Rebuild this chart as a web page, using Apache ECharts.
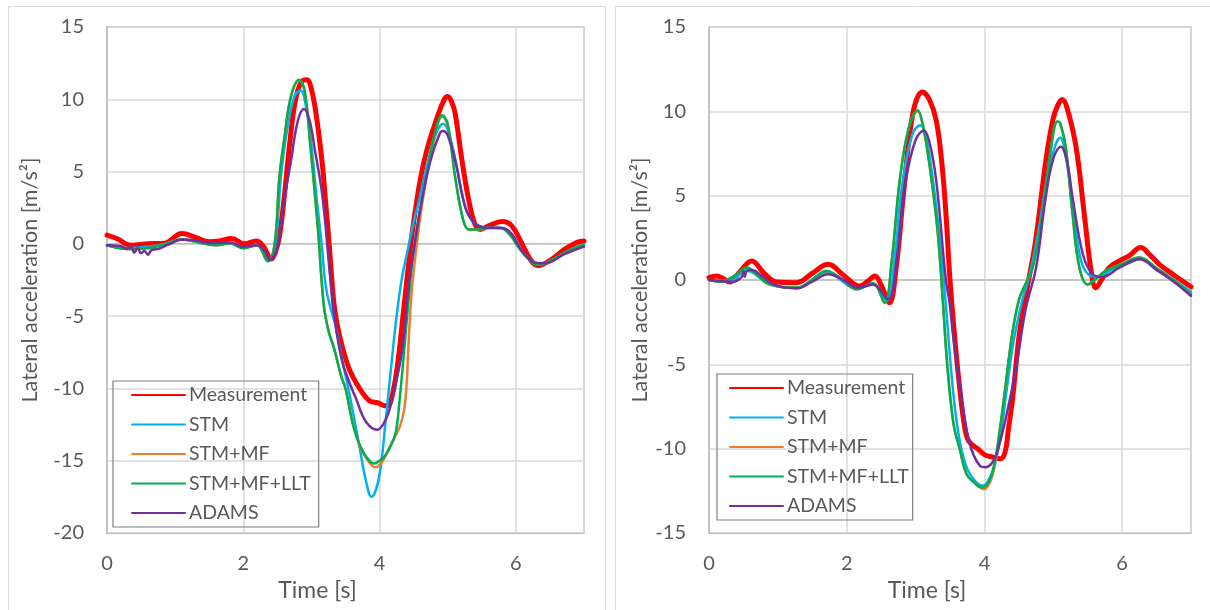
<!DOCTYPE html>
<html>
<head>
<meta charset="utf-8">
<script src="https://cdn.jsdelivr.net/npm/echarts@6/dist/echarts.min.js"></script>
<style>
  html, body { margin: 0; padding: 0; background: #fff; }
  #chart { width: 1210px; height: 610px; }
</style>
</head>
<body>
<div id="chart"></div>
<script>
// series names (legend order)
const names = ["Measurement", "STM", "STM+MF", "STM+MF+LLT", "ADAMS"];
const colors = ["#ff0000", "#00b0f0", "#ed7d31", "#00b050", "#7030a0"];

// ---- left chart: [time s, lateral acc m/s^2] ----
const leftMeas = [[0,0.6],[0.15,0.35],[0.35,-0.1],[0.6,0.0],[0.85,0.05],[1.1,0.72],[1.3,0.45],[1.5,0.15],[1.65,0.2],[1.83,0.37],[2.02,0.0],[2.19,0.2],[2.3,-0.2],[2.41,-1.05],[2.47,-0.6],[2.53,0.5],[2.6,3.2],[2.68,6.9],[2.76,9.8],[2.85,11.2],[2.93,11.35],[3.0,10.7],[3.08,8.6],[3.16,5.5],[3.21,2.8],[3.26,0],[3.3,-2.5],[3.34,-4.5],[3.41,-6.3],[3.55,-8.6],[3.7,-9.95],[3.85,-10.85],[3.98,-11.0],[4.08,-11.2],[4.12,-11.2],[4.18,-10.6],[4.26,-8.5],[4.35,-4.7],[4.43,-1.2],[4.5,1.5],[4.6,4.5],[4.7,6.6],[4.85,8.8],[4.95,10.0],[5.0,10.2],[5.06,9.8],[5.11,9.0],[5.21,5.75],[5.31,3.0],[5.4,1.35],[5.48,1.0],[5.6,1.25],[5.8,1.55],[5.94,1.25],[6.09,0.0],[6.23,-1.2],[6.33,-1.5],[6.53,-1.05],[6.72,-0.37],[6.9,0.1],[7.0,0.2]];
const leftStm = [[0,-0.1],[0.3,-0.3],[0.6,-0.2],[0.85,0.0],[1.1,0.3],[1.35,0.1],[1.6,-0.05],[1.8,0.1],[2.0,-0.25],[2.2,-0.1],[2.37,-1.15],[2.47,0.0],[2.55,4.5],[2.63,7.5],[2.75,10.2],[2.84,10.6],[2.92,9.5],[3.0,6.8],[3.08,3.0],[3.15,0],[3.22,-3.2],[3.36,-5.8],[3.45,-8.0],[3.55,-10.2],[3.7,-13.9],[3.8,-16.4],[3.88,-17.5],[3.99,-16.2],[4.09,-12.2],[4.17,-8.5],[4.25,-5.0],[4.33,-2.3],[4.41,-0.5],[4.5,1.5],[4.58,3.0],[4.7,5.5],[4.82,7.5],[4.93,8.3],[5.0,7.9],[5.11,5.9],[5.26,2.5],[5.38,1.5],[5.55,1.13],[5.8,1.1],[5.94,0.67],[6.09,-0.5],[6.28,-1.3],[6.42,-1.35],[6.72,-0.6],[6.96,-0.2],[7.0,-0.15]];
const leftStmMf = [[0,-0.1],[0.3,-0.35],[0.6,-0.3],[0.85,0.0],[1.1,0.3],[1.35,0.1],[1.6,-0.1],[1.8,0.05],[2.0,-0.3],[2.2,-0.1],[2.36,-1.2],[2.46,0],[2.53,4.6],[2.6,7.2],[2.7,10.2],[2.82,11.3],[2.9,10.6],[2.99,6.5],[3.05,3.5],[3.1,0.8],[3.18,-4.2],[3.25,-6.0],[3.33,-7.2],[3.44,-9.2],[3.5,-10.0],[3.61,-12.5],[3.7,-13.9],[3.8,-14.8],[3.94,-15.45],[4.05,-15.0],[4.13,-14.2],[4.22,-13.4],[4.3,-12.6],[4.36,-11.5],[4.4,-9.5],[4.42,-7.4],[4.47,-3.4],[4.55,0.1],[4.65,3.5],[4.78,6.8],[4.92,8.8],[5.0,8.2],[5.11,4.6],[5.23,1.6],[5.31,1.0],[5.45,1.0],[5.6,1.1],[5.77,1.1],[5.9,0.7],[6.05,-0.3],[6.2,-1.1],[6.33,-1.45],[6.5,-1.2],[6.72,-0.6],[6.96,-0.1],[7.0,-0.05]];
const leftStmMfLlt = [[0,-0.1],[0.3,-0.35],[0.6,-0.3],[0.85,0.0],[1.1,0.3],[1.35,0.1],[1.6,-0.1],[1.8,0.05],[2.0,-0.3],[2.2,-0.1],[2.36,-1.2],[2.46,0],[2.53,4.6],[2.6,7.2],[2.7,10.2],[2.82,11.35],[2.9,10.6],[2.99,6.5],[3.05,3.5],[3.1,0.8],[3.18,-4.2],[3.25,-6.0],[3.33,-7.2],[3.44,-9.2],[3.5,-10.0],[3.61,-12.5],[3.7,-13.8],[3.8,-14.7],[3.92,-15.2],[4.0,-15.0],[4.09,-14.6],[4.18,-13.8],[4.24,-13.0],[4.3,-10.5],[4.36,-7.4],[4.41,-4.7],[4.49,-0.8],[4.58,2.0],[4.7,5.0],[4.82,7.8],[4.92,8.9],[5.0,8.3],[5.11,4.6],[5.23,1.6],[5.31,1.0],[5.45,1.0],[5.6,1.1],[5.77,1.1],[5.9,0.7],[6.05,-0.3],[6.2,-1.1],[6.33,-1.45],[6.5,-1.2],[6.72,-0.6],[6.96,-0.1],[7.0,-0.05]];
const leftAdams = [[0,-0.1],[0.2,-0.15],[0.3,-0.35],[0.35,-0.2],[0.4,-0.6],[0.45,-0.3],[0.5,-0.65],[0.55,-0.5],[0.6,-0.75],[0.65,-0.45],[0.75,-0.35],[0.9,-0.05],[1.1,0.3],[1.3,0.25],[1.5,0.05],[1.8,0.1],[2.0,-0.2],[2.2,-0.1],[2.3,-0.4],[2.39,-1.1],[2.5,-0.2],[2.6,3.0],[2.7,5.75],[2.8,8.5],[2.89,9.33],[2.97,8.6],[3.05,6.5],[3.16,3.35],[3.27,-2.0],[3.35,-5.5],[3.45,-8.1],[3.55,-9.5],[3.65,-10.65],[3.8,-12.3],[3.97,-12.85],[4.05,-12.5],[4.13,-11.7],[4.19,-10.65],[4.33,-7.4],[4.43,-2.8],[4.52,0.1],[4.62,3.0],[4.75,5.8],[4.88,7.6],[4.93,7.8],[5.0,7.5],[5.11,5.75],[5.26,2.5],[5.38,1.5],[5.55,1.13],[5.8,1.1],[5.94,0.67],[6.09,-0.5],[6.28,-1.3],[6.42,-1.35],[6.72,-0.7],[6.96,-0.25],[7.0,-0.2]];

// ---- right chart ----
const rightMeas = [[0,0.14],[0.11,0.24],[0.2,0.1],[0.3,-0.12],[0.45,0.5],[0.62,1.13],[0.8,0.4],[0.98,-0.12],[1.27,-0.16],[1.5,0.4],[1.73,0.93],[1.95,0.3],[2.19,-0.36],[2.3,-0.1],[2.41,0.24],[2.5,-0.3],[2.62,-1.35],[2.72,0.8],[2.82,4.9],[2.96,9.86],[3.1,11.15],[3.2,10.7],[3.3,9.46],[3.38,7.0],[3.44,4.0],[3.5,0],[3.56,-3.0],[3.63,-6.0],[3.72,-8.9],[3.78,-9.6],[3.9,-10.0],[4.0,-10.35],[4.12,-10.5],[4.23,-10.6],[4.3,-10.2],[4.35,-8.8],[4.41,-7.0],[4.51,-3.1],[4.62,-0.5],[4.74,2.25],[4.9,7.3],[5.0,9.6],[5.07,10.4],[5.13,10.7],[5.2,10.2],[5.33,7.9],[5.45,3.9],[5.55,0.54],[5.62,-0.46],[5.7,0.0],[5.81,0.73],[5.96,1.13],[6.1,1.43],[6.27,1.92],[6.4,1.5],[6.54,0.93],[6.75,0.3],[7.0,-0.4]];
const rightStm = [[0,0.0],[0.3,-0.05],[0.55,0.55],[0.88,-0.25],[1.27,-0.45],[1.7,0.45],[2.15,-0.5],[2.38,-0.25],[2.58,-1.25],[2.7,1.5],[2.8,5.5],[2.95,8.6],[3.07,9.17],[3.15,8.5],[3.25,6.0],[3.35,2.5],[3.44,-1.5],[3.52,-5.5],[3.6,-8.5],[3.7,-10.6],[3.82,-11.7],[3.98,-12.2],[4.08,-11.7],[4.17,-10.6],[4.25,-8.8],[4.33,-6.3],[4.43,-3.5],[4.55,-1.2],[4.65,0.2],[4.78,2.8],[4.92,6.3],[5.03,8.0],[5.1,8.43],[5.17,7.6],[5.28,4.5],[5.4,1.2],[5.52,0.3],[5.65,0.2],[5.85,0.6],[6.1,1.0],[6.27,1.25],[6.5,0.6],[6.75,0.0],[7.0,-0.7]];
const rightStmMf = [[0,0.0],[0.16,-0.1],[0.35,0.2],[0.55,0.73],[0.7,0.3],[0.88,-0.26],[1.27,-0.45],[1.5,0.0],[1.7,0.54],[1.95,0.0],[2.14,-0.55],[2.38,-0.2],[2.55,-1.35],[2.65,1.0],[2.77,5.9],[2.9,9.0],[3.03,10.0],[3.1,9.3],[3.2,6.9],[3.32,2.9],[3.4,-1.5],[3.46,-5.0],[3.55,-8.5],[3.64,-10.0],[3.74,-11.5],[3.85,-12.0],[3.99,-12.4],[4.08,-12.0],[4.15,-11.0],[4.22,-9.0],[4.3,-6.5],[4.4,-3.3],[4.5,-1.2],[4.6,-0.2],[4.7,0.73],[4.84,3.9],[4.97,7.9],[5.06,9.4],[5.1,9.3],[5.18,7.9],[5.28,3.9],[5.38,0.73],[5.5,-0.26],[5.6,0.0],[5.76,0.54],[6.0,0.95],[6.25,1.33],[6.5,0.7],[6.75,0.0],[7.0,-0.85]];
const rightStmMfLlt = [[0,0.0],[0.16,-0.1],[0.35,0.2],[0.55,0.73],[0.7,0.3],[0.88,-0.26],[1.27,-0.45],[1.5,0.0],[1.7,0.54],[1.95,0.0],[2.14,-0.55],[2.38,-0.2],[2.55,-1.35],[2.65,1.0],[2.77,5.9],[2.9,9.0],[3.03,10.06],[3.1,9.3],[3.2,6.9],[3.32,2.9],[3.4,-1.5],[3.46,-5.0],[3.55,-8.5],[3.64,-10.0],[3.74,-11.5],[3.85,-12.0],[3.96,-12.3],[4.06,-12.0],[4.14,-11.0],[4.22,-9.0],[4.3,-6.5],[4.4,-3.3],[4.5,-1.2],[4.6,-0.2],[4.7,0.73],[4.84,3.9],[4.97,7.9],[5.06,9.4],[5.1,9.3],[5.18,7.9],[5.28,3.9],[5.38,0.73],[5.5,-0.26],[5.6,0.0],[5.76,0.54],[6.0,0.95],[6.25,1.33],[6.5,0.7],[6.75,0.0],[7.0,-0.85]];
const rightAdams = [[0,0.0],[0.35,-0.1],[0.48,0.2],[0.5,0.5],[0.52,0.2],[0.55,0.55],[0.62,0.6],[0.75,0.3],[0.93,-0.26],[1.27,-0.5],[1.5,-0.1],[1.73,0.34],[1.95,0.0],[2.16,-0.46],[2.38,-0.26],[2.6,-1.15],[2.72,1.0],[2.86,5.9],[3.0,8.3],[3.12,8.87],[3.2,8.2],[3.3,5.9],[3.44,0.0],[3.49,-1.25],[3.56,-3.8],[3.64,-6.2],[3.78,-9.6],[3.93,-11.0],[4.02,-11.1],[4.1,-10.9],[4.17,-10.4],[4.31,-8.2],[4.46,-5.2],[4.6,-1.7],[4.75,0.73],[4.89,4.9],[5.0,7.2],[5.11,7.9],[5.2,7.0],[5.28,4.9],[5.43,1.53],[5.57,0.34],[5.71,0.18],[5.96,0.73],[6.25,1.23],[6.5,0.6],[6.75,-0.1],[7.0,-0.95]];

// axis settings
const xTicks = { min: 0, max: 7, interval: 2 };
const leftY = { min: -20, max: 15, interval: 5 };
const rightY = { min: -15, max: 15, interval: 5 };

const leftData = [leftMeas, leftStm, leftStmMf, leftStmMfLlt, leftAdams];
const rightData = [rightMeas, rightStm, rightStmMf, rightStmMfLlt, rightAdams];

const font = "Lato, 'Noto Sans', sans-serif";
const textColor = "#595959";

// the Excel x title sits a bit left of the plot centre
function xAxisOf(gi, shift) {
    return {
        type: "value", gridIndex: gi, min: xTicks.min, max: xTicks.max, interval: xTicks.interval,
        name: "Time [s]", nameLocation: "middle", nameGap: 42,
        nameTextStyle: { fontSize: 23, color: textColor, fontFamily: font, padding: [0, shift * 2, 0, 0] },
        axisLine: { onZero: false, lineStyle: { color: "#bfbfbf" } },
        axisTick: { show: false },
        axisLabel: { margin: 21, fontSize: 20, color: textColor, fontFamily: font, showMaxLabel: false },
        splitLine: { lineStyle: { color: "#d9d9d9", width: 1.5 } }
    };
}
function yAxisOf(gi, range, gap) {
    return {
        type: "value", gridIndex: gi, min: range.min, max: range.max, interval: range.interval,
        name: "Lateral acceleration [m/s²]", nameLocation: "middle", nameGap: gap,
        nameTextStyle: { fontSize: 21.5, color: textColor, fontFamily: font },
        axisLine: { show: true, lineStyle: { color: "#bfbfbf", width: 1.5 } },
        axisTick: { show: false },
        axisLabel: { margin: 23, fontSize: 20, color: textColor, fontFamily: font },
        splitLine: { lineStyle: { color: "#d9d9d9", width: 1.5 } }
    };
}

const series = [];
[leftData, rightData].forEach(function (set, gi) {
    // zero line under the curves
    series.push({
        name: "zero" + gi, type: "line", xAxisIndex: gi, yAxisIndex: gi,
        data: [[xTicks.min, 0], [xTicks.max, 0]], symbol: "none", silent: true,
        lineStyle: { color: "#bfbfbf", width: 1.5 }
    });
    set.forEach(function (d, i) {
        series.push({
            name: names[i], type: "line", xAxisIndex: gi, yAxisIndex: gi,
            data: d, symbol: "none", smooth: 0.4,
            lineStyle: { color: colors[i], width: i === 0 ? 5 : 2.5, cap: "round" },
            itemStyle: { color: colors[i] }
        });
    });
});

function legendOf(left, top, pad) {
    return {
        data: names, orient: "vertical", left: left, top: top,
        itemWidth: 53, itemHeight: 14, itemGap: 9.5, padding: pad,
        borderColor: "#7f7f7f", borderWidth: 1.2, selectedMode: false,
        itemStyle: { opacity: 0 },
        textStyle: { fontSize: 19.5, color: textColor, fontFamily: font, padding: [0, 0, 0, -1] }
    };
}

const chart = echarts.init(document.getElementById("chart"));
chart.setOption({
    backgroundColor: "#fff",
    animation: false,
    grid: [
        { left: 107, top: 27, width: 477, height: 506, show: true, borderColor: "#bfbfbf", borderWidth: 1.5 },
        { left: 709, top: 27, width: 482, height: 506, show: true, borderColor: "#bfbfbf", borderWidth: 1.5 }
    ],
    xAxis: [xAxisOf(0, 28), xAxisOf(1, 23)],
    yAxis: [yAxisOf(0, leftY, 66), yAxisOf(1, rightY, 58)],
    legend: [legendOf(113, 381, [4, 8, 4, 18]), legendOf(717, 374, [4, 4, 4, 12])],
    graphic: [
        { type: "rect", shape: { x: 8.5, y: 6.5, width: 597, height: 640 }, style: { fill: "none", stroke: "#d9d9d9", lineWidth: 1 }, z: -1 },
        { type: "rect", shape: { x: 615.5, y: 6.5, width: 640, height: 640 }, style: { fill: "none", stroke: "#d9d9d9", lineWidth: 1 }, z: -1 }
    ],
    series: series
});
</script>
</body>
</html>
